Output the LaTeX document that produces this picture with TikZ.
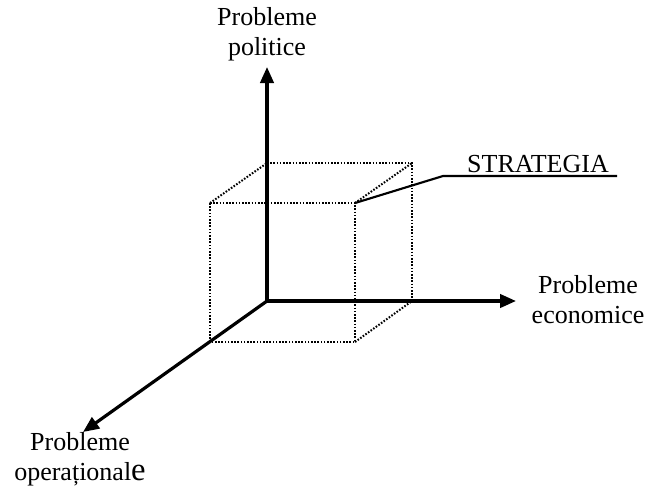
\documentclass[tikz,border=0pt]{standalone}
\usepackage{fontspec}
\setmainfont{Liberation Serif}
\usetikzlibrary{arrows.meta}
\begin{document}
\begin{tikzpicture}[x=0.75pt,y=-0.75pt,
  axis/.style={line width=2.4pt,-{Triangle[length=12pt,width=10pt]}},
  edge/.style={line width=1.5pt,dash pattern=on 1.2pt off 1.2pt},
  leader/.style={line width=1.6pt},
  lbl/.style={font=\fontsize{19.5}{22.5}\selectfont,align=center,anchor=base,inner sep=0pt}]
\useasboundingbox (0,0) rectangle (645,490);
% origin of the three axes and their tips
\coordinate (O) at (267,301);
\coordinate (up) at (267,67);
\coordinate (right) at (516,301);
\coordinate (down) at (83,432);
% cube corners: front face and back face
\coordinate (ftl) at (210,203);
\coordinate (ftr) at (355,203);
\coordinate (fbl) at (210,342);
\coordinate (fbr) at (355,342);
\coordinate (btl) at (267,163);
\coordinate (btr) at (412,163);
\coordinate (bbr) at (412,301);
\coordinate (bend) at (443,176);
\coordinate (uend) at (617,176);
% dotted cube
\draw[edge] (ftl) -- (ftr) -- (fbr) -- (fbl) -- cycle;
\draw[edge] (btl) -- (btr) -- (bbr) -- (O) -- cycle;
\draw[edge] (ftl) -- (btl);
\draw[edge] (ftr) -- (btr);
\draw[edge] (fbr) -- (bbr);
% axes
\draw[axis] (O) -- (up);
\draw[axis] (O) -- (right);
\draw[axis] (O) -- (down);
% labels (base anchor sits on the last line)
\node[lbl] (pol) at (267,55) {Probleme\\politice};
\node[lbl] (eco) at (588,323) {Probleme\\economice};
\node[lbl] (ope) at (80,480) {Probleme\\opera\char"021B ional{\fontsize{24.5}{22.5}\selectfont e}};
\node[lbl] (strat) at (538,172) {STRATEGIA};
% leader to the cube corner
\draw[leader] (ftr) -- (bend) -- (uend);
\end{tikzpicture}
\end{document}
